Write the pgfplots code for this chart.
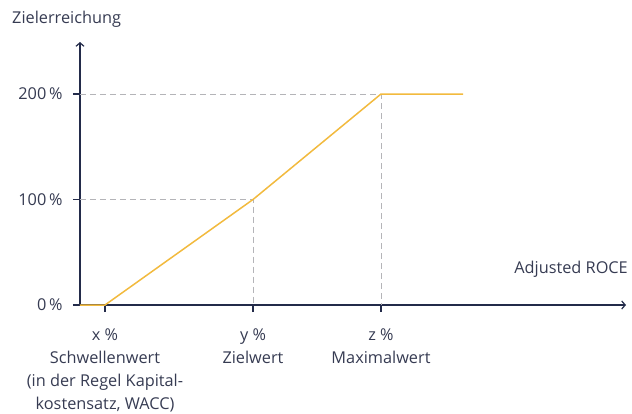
\documentclass[border=0pt]{standalone}
\usepackage{pgfplots}
\pgfplotsset{compat=1.18}
\usepackage{fontspec}
\setmainfont{Open Sans}
\usetikzlibrary{arrows.meta}
\definecolor{axiscol}{HTML}{232B4A}
\definecolor{txtcol}{HTML}{363B52}
\definecolor{gold}{HTML}{F2BA3E}
\definecolor{dashcol}{HTML}{B4B4B8}
\begin{document}
\begin{tikzpicture}[font=\fontsize{16.3}{23}\selectfont, text=txtcol]
\begin{axis}[
  scale only axis,
  width=546pt, height=263pt,
  xmin=0, xmax=546, ymin=0, ymax=249.3,
  axis lines=left,
  axis line style={axiscol, line width=1.2pt, -{Straight Barb[length=3.5pt,width=8pt,line width=1.2pt]}},
  xtick={25,173,301},
  xticklabels={{x \%\\Schwellenwert\\(in der Regel Kapital-\\kostensatz, WACC)},{y \%\\Zielwert},{z \%\\Maximalwert}},
  xticklabel style={align=center, text=txtcol, yshift=-13pt},
  ytick={0,100,200},
  yticklabels={0\,\%,100\,\%,200\,\%},
  yticklabel style={text=txtcol, xshift=-7pt},
  tick align=outside,
  major tick length=7pt,
  tick style={axiscol, line width=1.2pt},
  clip=false,
]
\addplot[dashcol, line width=1pt, dash pattern=on 6pt off 4pt] coordinates {(0,100) (173,100) (173,0)};
\addplot[dashcol, line width=1pt, dash pattern=on 6pt off 4pt] coordinates {(0,200) (301,200) (301,0)};
\addplot[gold, line width=1.5pt] coordinates {(0,0) (25,0) (173,100) (301,200) (383,200)};
\node[anchor=base east, inner sep=0pt] at (axis cs:548,30.3) {Adjusted ROCE};
\node[anchor=base west, inner sep=0pt] at (axis cs:-68,267.3) {Zielerreichung};
\coordinate (O) at (axis cs:0,0);
\end{axis}
\pgfresetboundingbox
\useasboundingbox (O) ++(-80pt,-108pt) rectangle ++(632pt,413pt);
\end{tikzpicture}
\end{document}
